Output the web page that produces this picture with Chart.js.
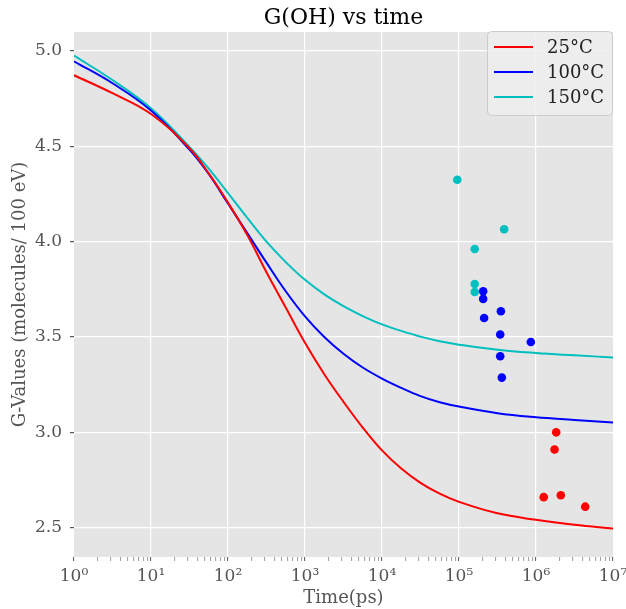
<!DOCTYPE html>
<html>
<head>
<meta charset="utf-8">
<title>G(OH) vs time</title>
<script src="https://cdn.jsdelivr.net/npm/chart.js@4.4.1/dist/chart.umd.min.js"></script>
<style>
  html, body { margin: 0; padding: 0; background: #ffffff; }
</style>
</head>
<body>
<canvas id="gohChart" width="626" height="609"></canvas>
<script>
// simulated curves (time in ps)
const timePs = [1, 3.16, 10, 31.6, 56.2, 100, 178, 316, 562, 1000, 1780, 3160, 5620,
                1e4, 1.78e4, 3.16e4, 5.62e4, 1e5, 3.16e5, 1e6, 3.16e6, 1e7];
const g25C  = [4.873, 4.779, 4.670, 4.490, 4.358, 4.205, 4.035, 3.840, 3.655, 3.470, 3.305,
               3.160, 3.025, 2.905, 2.810, 2.735, 2.678, 2.635, 2.575, 2.541, 2.515, 2.495];
const g100C = [4.946, 4.831, 4.688, 4.483, 4.355, 4.200, 4.045, 3.890, 3.740, 3.608, 3.500,
               3.412, 3.340, 3.282, 3.233, 3.190, 3.158, 3.135, 3.100, 3.079, 3.065, 3.051];
const g150C = [4.976, 4.848, 4.700, 4.497, 4.383, 4.255, 4.125, 4.000, 3.893, 3.800, 3.724,
               3.662, 3.610, 3.566, 3.532, 3.502, 3.478, 3.460, 3.433, 3.416, 3.404, 3.393];

// measured points
const exp25T  = [1.83e6, 1.74e6, 1.26e6, 2.10e6, 4.36e6];
const exp25G  = [3.00, 2.91, 2.66, 2.67, 2.61];
const exp100T = [2.06e5, 2.06e5, 2.12e5, 3.50e5, 3.43e5, 8.57e5, 3.43e5, 3.60e5];
const exp100G = [3.74, 3.70, 3.60, 3.635, 3.513, 3.474, 3.399, 3.287];
const exp150T = [9.5e4, 3.86e5, 1.60e5, 1.60e5, 1.60e5];
const exp150G = [4.325, 4.065, 3.962, 3.778, 3.736];

const seriesLabels = ['25°C', '100°C', '150°C'];
const seriesColors = ['#ff0000', '#0000ff', '#00bfbf'];
const xTickLabels = ['10⁰', '10¹', '10²', '10³', '10⁴', '10⁵', '10⁶', '10⁷'];
const yTicks = [2.5, 3.0, 3.5, 4.0, 4.5, 5.0];

const serif = '"DejaVu Serif", "Liberation Serif", serif';
const tickGrey = '#555555';

function pairUp(xs, ys) {
    return xs.map((x, i) => ({ x: x, y: ys[i] }));
}

function isDecade(v) {
    if (!v) return false;
    const e = Math.log10(v);
    return Math.abs(e - Math.round(e)) < 1e-9;
}

const curves = [g25C, g100C, g150C].map((g, i) => ({
    type: 'line',
    label: seriesLabels[i],
    data: pairUp(timePs, g),
    borderColor: seriesColors[i],
    borderWidth: 2,
    pointRadius: 0,
    tension: 0.4,
    fill: false,
    order: 2
}));

const points = [[exp25T, exp25G], [exp100T, exp100G], [exp150T, exp150G]].map((p, i) => ({
    type: 'scatter',
    label: seriesLabels[i] + ' data',
    data: pairUp(p[0], p[1]),
    backgroundColor: seriesColors[i],
    borderWidth: 0,
    pointRadius: 4.3,
    order: 1
}));

// grey panel behind the plot
const panelBg = {
    id: 'panelBg',
    beforeDraw(chart) {
        const a = chart.chartArea, ctx = chart.ctx;
        ctx.save();
        ctx.fillStyle = '#e5e5e5';
        ctx.fillRect(a.left, a.top, a.right - a.left, a.bottom - a.top);
        ctx.restore();
    }
};

// title centred over the plot, legend box in the upper right
const titleAndLegend = {
    id: 'titleAndLegend',
    afterDatasetsDraw(chart) {
        const a = chart.chartArea, ctx = chart.ctx;
        ctx.save();
        ctx.fillStyle = '#000000';
        ctx.font = '22px ' + serif;
        ctx.textAlign = 'center';
        ctx.textBaseline = 'middle';
        ctx.fillText('G(OH) vs time', (a.left + a.right) / 2, 18);

        const bw = 126, bh = 85, bx = a.right - bw, by = a.top - 1;
        ctx.fillStyle = 'rgba(238,238,238,0.85)';
        ctx.strokeStyle = '#cccccc';
        ctx.lineWidth = 1;
        ctx.beginPath();
        ctx.roundRect(bx + 0.5, by + 0.5, bw - 1, bh - 1, 4);
        ctx.fill();
        ctx.stroke();

        ctx.font = '18px ' + serif;
        ctx.textAlign = 'left';
        chart.data.datasets.filter(d => d.type === 'line').forEach((d, i) => {
            const ry = by + 16 + i * 25;
            ctx.strokeStyle = d.borderColor;
            ctx.lineWidth = 2;
            ctx.beginPath();
            ctx.moveTo(bx + 7, ry);
            ctx.lineTo(bx + 46, ry);
            ctx.stroke();
            ctx.fillStyle = '#222222';
            ctx.fillText(d.label, bx + 60, ry + 1);
        });
        ctx.restore();
    }
};

new Chart(document.getElementById('gohChart'), {
    type: 'scatter',
    data: { datasets: curves.concat(points) },
    options: {
        responsive: false,
        animation: false,
        devicePixelRatio: 1,
        layout: { padding: { top: 32, right: 13, left: 0, bottom: 0 } },
        plugins: {
            legend: { display: false },
            title: { display: false },
            tooltip: { enabled: false }
        },
        scales: {
            x: {
                type: 'logarithmic',
                min: 1,
                max: 1e7,
                afterBuildTicks: (scale) => {
                    const ticks = [];
                    for (let e = 0; e < 7; e++) {
                        for (let m = 1; m < 10; m++) ticks.push({ value: m * Math.pow(10, e) });
                    }
                    ticks.push({ value: 1e7 });
                    scale.ticks = ticks;
                },
                afterFit: (scale) => {
                    scale.height = 52;
                    scale.paddingLeft = 0;   // let 10^7 hang off the edge like the original
                    scale.paddingRight = 0;
                },
                border: { display: false },
                grid: {
                    color: (ctx) => {
                        const v = ctx.tick && ctx.tick.value;
                        return isDecade(v) && v !== 1 && v !== 1e7 ? '#ffffff' : 'rgba(0,0,0,0)';
                    },
                    lineWidth: 1.2,
                    tickColor: tickGrey,
                    tickWidth: (ctx) => (ctx.tick && isDecade(ctx.tick.value) ? 1 : 0.6),
                    tickLength: 4
                },
                ticks: {
                    autoSkip: false,
                    maxRotation: 0,
                    padding: 5,
                    color: tickGrey,
                    font: { family: serif, size: 17 },
                    callback: (value) => isDecade(value) ? xTickLabels[Math.round(Math.log10(value))] : ''
                },
                title: {
                    display: true,
                    text: 'Time(ps)',
                    color: tickGrey,
                    font: { family: serif, size: 18 },
                    padding: { top: 0, bottom: 0 }
                }
            },
            y: {
                min: 2.346,
                max: 5.10,
                afterBuildTicks: (scale) => {
                    scale.ticks = yTicks.map(v => ({ value: v }));
                },
                afterFit: (scale) => { scale.width = 74; },
                border: { display: false },
                grid: {
                    color: '#ffffff',
                    lineWidth: 1.2,
                    tickColor: tickGrey,
                    tickLength: 4
                },
                ticks: {
                    padding: 8,
                    color: tickGrey,
                    font: { family: serif, size: 17 },
                    callback: (value) => Number(value).toFixed(1)
                },
                title: {
                    display: true,
                    text: 'G-Values (molecules/ 100 eV)',
                    color: tickGrey,
                    font: { family: serif, size: 18 },
                    padding: { top: 10, bottom: 0 }
                }
            }
        }
    },
    plugins: [panelBg, titleAndLegend]
});
</script>
</body>
</html>
